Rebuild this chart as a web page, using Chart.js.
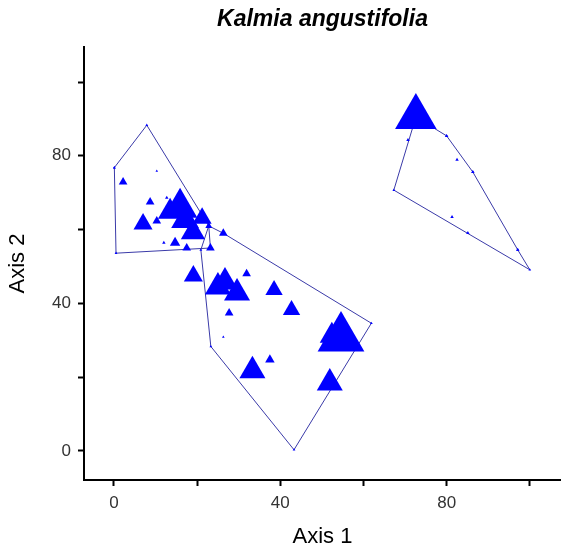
<!DOCTYPE html>
<html>
<head>
<meta charset="utf-8">
<script src="https://cdn.jsdelivr.net/npm/chart.js@4.4.0/dist/chart.umd.min.js"></script>
<style>
  html, body { margin: 0; padding: 0; background: #fff; }
  canvas { display: block; }
</style>
</head>
<body>
<canvas id="ordination" width="561" height="555"></canvas>
<script>
// site scores on the two ordination axes, with species abundance per site
const g1X = [10.3, 2.2, 8.7, 12.7, 7.0, 10.3, 12.0, 14.7, 17.5, 15.9, 13.5, 17.1, 19.0, 21.2, 23.2, 22.8];
const g1Y = [75.9, 72.9, 67.5, 68.6, 61.5, 62.3, 56.4, 56.4, 55.0, 65.9, 64.8, 62.6, 59.3, 63.1, 55.0, 61.0];
const g1Abund = [1.5, 5, 5, 2, 11, 5, 2, 6, 5, 20, 14, 16, 14, 11, 5, 4];

const g2X = [19.1, 25.0, 26.7, 29.6, 31.9, 38.5, 42.7, 27.7, 26.3, 54.6, 52.4, 37.5, 33.3, 51.9, 26.3];
const g2Y = [47.4, 44.4, 45.8, 42.8, 48.0, 43.6, 38.2, 37.4, 30.9, 30.6, 31.2, 24.7, 21.7, 18.4, 59.0];
const g2Abund = [11, 15, 15, 15, 5, 10, 10, 5, 1.5, 27, 14, 5.5, 15, 15, 5];

const g3X = [72.6, 70.7, 80.0, 82.5, 86.3, 97.1, 81.3, 85.1];
const g3Y = [90.5, 84.3, 85.4, 78.9, 75.6, 54.5, 63.4, 59.1];
const g3Abund = [24, 2, 2, 2, 2, 2, 2, 2];

// convex hulls around each group
const hull1X = [0.1, 7.9, 22.8, 23.2, 0.5];
const hull1Y = [76.8, 88.3, 61.0, 55.0, 53.6];
const hull2X = [22.8, 26.3, 61.9, 43.3, 23.3, 20.9];
const hull2Y = [61.0, 59.0, 34.6, 0.3, 28.3, 54.5];
const hull3X = [72.6, 80.0, 86.3, 97.1, 100.0, 67.3];
const hull3Y = [90.5, 85.4, 75.6, 54.5, 49.1, 70.7];

const xTicks = [0, 20, 40, 60, 80, 100];
const yTicks = [0, 20, 40, 60, 80, 100];
const labelEvery = 40;

const FONT = "'Liberation Sans', Arial, sans-serif";
const BLUE = '#0000ff';
const HULL = '#3a3aa8';

function pts(xs, ys) {
  return xs.map((x, i) => ({ x: x, y: ys[i] }));
}
function closed(xs, ys) {
  const p = pts(xs, ys);
  p.push(p[0]);
  return p;
}

function markerSet(xs, ys, ab) {
  return {
    type: 'scatter',
    data: pts(xs, ys),
    pointStyle: 'triangle',
    pointRadius: ab,
    pointBackgroundColor: BLUE,
    pointBorderColor: BLUE,
    pointBorderWidth: 0,
    showLine: false
  };
}
function hullSet(xs, ys) {
  return {
    type: 'scatter',
    data: closed(xs, ys),
    showLine: true,
    borderColor: HULL,
    borderWidth: 1,
    pointStyle: 'triangle',
    pointRadius: 1.6,
    pointBackgroundColor: BLUE,
    pointBorderWidth: 0,
    fill: false,
    tension: 0
  };
}

function axisOpts(min, max, ticks, title, isX) {
  return {
    type: 'linear',
    position: isX ? 'bottom' : 'left',
    min: min,
    max: max,
    afterBuildTicks: s => { s.ticks = ticks.map(v => ({ value: v })); },
    afterFit: s => {
      // fixed axis band, no extra room for edge labels
      if (isX) { s.height = 75; s.paddingLeft = 0; s.paddingRight = 0; }
      else { s.width = 84; s.paddingTop = 0; s.paddingBottom = 0; }
    },
    border: { display: true, color: '#000', width: 2 },
    grid: { drawOnChartArea: false, drawTicks: true, tickLength: 6, tickWidth: 2, tickColor: '#000' },
    ticks: {
      color: '#333',
      padding: 7,
      font: { family: FONT, size: 17 },
      maxRotation: 0,
      callback: v => (v % labelEvery === 0 ? String(v) : '')
    },
    title: {
      display: true,
      text: title,
      color: '#000',
      font: { family: FONT, size: 22 },
      padding: isX ? { top: 0, bottom: 4.8 } : { top: 4.8, bottom: 0 }
    }
  };
}

new Chart(document.getElementById('ordination'), {
  type: 'scatter',
  data: {
    datasets: [
      markerSet(g1X, g1Y, g1Abund),
      markerSet(g2X, g2Y, g2Abund),
      markerSet(g3X, g3Y, g3Abund),
      hullSet(hull1X, hull1Y),
      hullSet(hull2X, hull2Y),
      hullSet(hull3X, hull3Y)
    ]
  },
  options: {
    responsive: false,
    devicePixelRatio: 1,
    animation: false,
    layout: { padding: 0, autoPadding: false },
    scales: {
      x: axisOpts(-7.2, 107.5, xTicks, 'Axis 1', true),
      y: axisOpts(-7.9, 109.5, yTicks, 'Axis 2', false)
    },
    plugins: {
      legend: { display: false },
      tooltip: { enabled: false },
      title: {
        display: true,
        fullSize: false,
        text: 'Kalmia angustifolia',
        color: '#000',
        font: { family: FONT, size: 23, weight: 'bold', style: 'italic' },
        padding: { top: 6.2, bottom: 13.2 }
      }
    },
    clip: false
  }
});
</script>
</body>
</html>
